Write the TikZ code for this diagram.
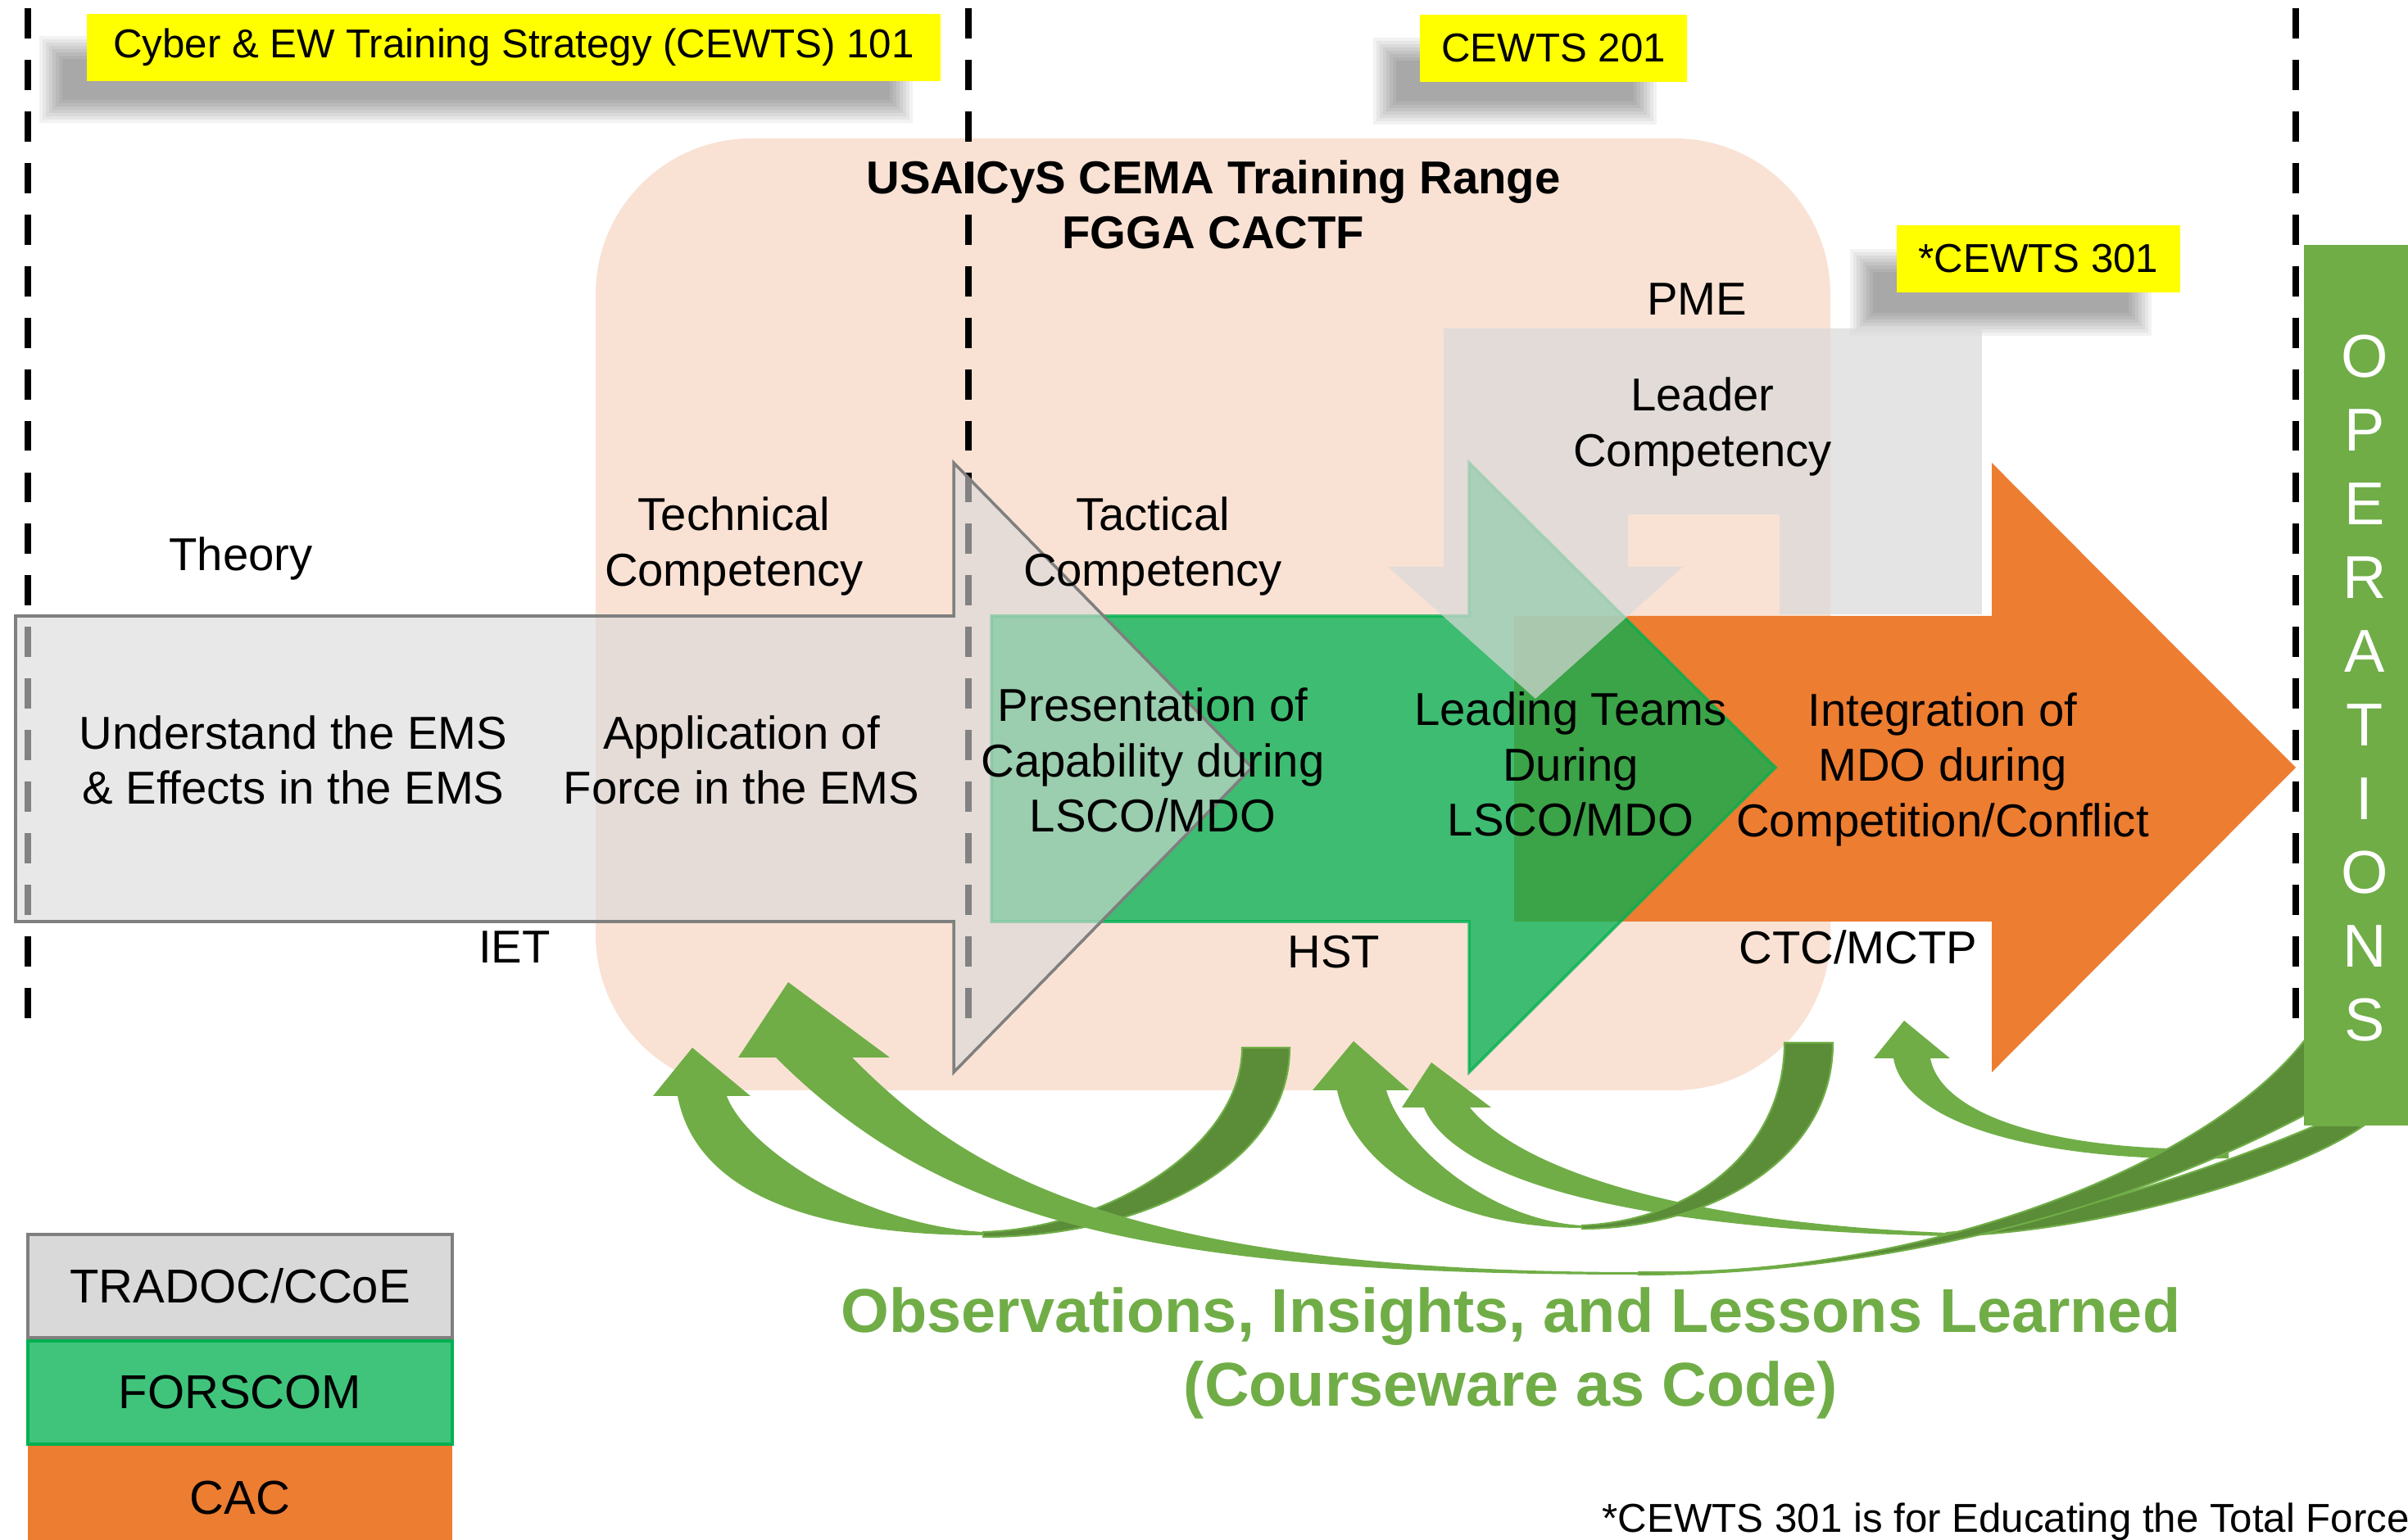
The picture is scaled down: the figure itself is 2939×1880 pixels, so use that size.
\documentclass[tikz,border=0pt]{standalone}
\usepackage{fontspec}
\setmainfont{Liberation Sans}
\usetikzlibrary{positioning}

\definecolor{peach}{RGB}{249,226,212}
\definecolor{tradocgray}{RGB}{217,217,217}
\definecolor{edgegray}{RGB}{127,127,127}
\definecolor{forscomgreen}{RGB}{0,176,80}
\definecolor{cacorange}{RGB}{237,125,49}
\definecolor{oilgreen}{RGB}{112,173,71}
\definecolor{oildark}{RGB}{91,140,56}
\definecolor{hiyellow}{RGB}{255,255,0}

\tikzset{
  lbl/.style={font=\fontsize{16}{19.2}\selectfont, align=center, inner sep=0pt},
  tagbox/.style={fill=hiyellow, font=\fontsize{14}{16.8}\selectfont, inner sep=0pt, minimum height=0.82cm},
  legbox/.style={minimum width=5.18cm, minimum height=1.26cm, inner sep=0pt, font=\fontsize{16.5}{19.8}\selectfont},
  opsletter/.style={text=white, font=\fontsize{21}{25}\selectfont, inner sep=0pt},
  divider/.style={line width=2.5pt, dash pattern=on 10.5pt off 7.4pt},
  ribbon/.style={fill=oilgreen},
  ribbonback/.style={fill=oildark, draw=oilgreen, line width=0.6pt},
}

\begin{document}
\begin{tikzpicture}[x=0.01cm, y=-0.01cm]
  \useasboundingbox (0,0) rectangle (2939,1880);

  % Shadows under the course tags
  \foreach \xa/\ya/\xb/\yb in {62/58/1100/136, 1690/60/2008/138, 2272/318/2612/396}
    \foreach \k in {0,4,...,28}
      \fill[black, opacity=0.05] (\xa-14+\k,\ya-14+\k) rectangle (\xb+14-\k,\yb+14-\k);

  % Training range backdrop
  \fill[peach, rounded corners=1.9cm] (727,169) rectangle (2234,1331);

  % Phase dividers
  \foreach \x in {34,1182,2802}
    \draw[divider] (\x,10) -- (\x,1250);

  % CAC, FORSCOM and TRADOC arrows
  \fill[cacorange] (1848,752) -- (2431,752) -- (2431,565) -- (2802,937)
    -- (2431,1309) -- (2431,1125) -- (1848,1125) -- cycle;
  \filldraw[fill=forscomgreen, draw=forscomgreen, opacity=0.75, line width=1pt]
    (1210,752) -- (1793,752) -- (1793,565) -- (2167,937)
    -- (1793,1309) -- (1793,1125) -- (1210,1125) -- cycle;
  \filldraw[fill=tradocgray, fill opacity=0.6, draw=edgegray, line width=1pt]
    (19,752) -- (1164,752) -- (1164,565) -- (1528,937)
    -- (1164,1309) -- (1164,1125) -- (19,1125) -- cycle;

  % PME block with its down arrow
  \fill[tradocgray, fill opacity=0.7] (1762,401) -- (2419,401) -- (2419,750) -- (2172,750)
    -- (2172,628) -- (1987,628) -- (1987,692) -- (2054,692) -- (1874,853)
    -- (1694,692) -- (1762,692) -- cycle;

  % Course tags
  \node[tagbox, minimum width=10.42cm] (cewts101) at (627,58) {Cyber \& EW Training Strategy (CEWTS) 101};
  \node[tagbox, minimum width=3.25cm] (cewts201) at (1896,59) {CEWTS 201};
  \node[tagbox, minimum width=3.45cm] (cewts301) at (2488,316) {*CEWTS 301};

  % Labels
  \node[lbl, font=\bfseries\fontsize{16}{19}\selectfont] (range) at (1481,250) {USAICyS CEMA Training Range\\FGGA CACTF};
  \node[lbl] (theory) at (294,682) {Theory};
  \node[lbl] (techcomp) at (896,667) {Technical\\Competency};
  \node[lbl] (taccomp) at (1407,667) {Tactical\\Competency};
  \node[lbl] (pme) at (2071,365) {PME};
  \node[lbl] (leadcomp) at (2078,521) {Leader\\Competency};
  \node[lbl] (understand) at (358,928) {Understand the EMS\\\& Effects in the EMS};
  \node[lbl] (application) at (905,928) {Application of\\Force in the EMS};
  \node[lbl] (presentation) at (1407,928) {Presentation of\\Capability during\\LSCO/MDO};
  \node[lbl] (leading) at (1917,933) {Leading Teams\\During\\LSCO/MDO};
  \node[lbl] (integration) at (2371,939) {Integration of\\MDO during\\Competition/Conflict};
  \node[lbl] (iet) at (628,1156) {IET};
  \node[lbl] (hst) at (1628,1162) {HST};
  \node[lbl] (ctc) at (2268,1156) {CTC/MCTP};

  % Feedback arrows (OIL)
  \fill[ribbon] (2287,1292) -- (2311,1292) .. controls (2325,1375) and (2500,1420) .. (2720,1414)
    -- (2720,1402) .. controls (2520,1408) and (2370,1365) .. (2356,1292)
    -- (2380,1292) -- (2324,1246) -- cycle;
  \fill[ribbon] (1711,1352) -- (1738,1352) .. controls (1770,1430) and (1950,1500) .. (2376,1509)
    -- (2376,1505) .. controls (2000,1490) and (1840,1410) .. (1794,1352)
    -- (1820,1352) -- (1747,1297) -- cycle;
  \filldraw[ribbonback] (2376,1505) .. controls (2500,1495) and (2720,1420) .. (2826,1374)
    -- (2885,1374) .. controls (2790,1440) and (2550,1505) .. (2376,1509) -- cycle;
  \fill[ribbon] (1602,1331) -- (1632,1331) .. controls (1650,1420) and (1760,1499) .. (1931,1499)
    -- (1931,1496) .. controls (1820,1490) and (1712,1400) .. (1692,1331)
    -- (1720,1331) -- (1652,1271) -- cycle;
  \filldraw[ribbonback] (1931,1496) .. controls (2070,1490) and (2178,1400) .. (2178,1273)
    -- (2237,1273) .. controls (2237,1420) and (2080,1500) .. (1931,1500) -- cycle;
  \fill[ribbon] (797,1338) -- (827,1338) .. controls (850,1460) and (1000,1508) .. (1200,1508)
    -- (1200,1504) .. controls (1050,1495) and (910,1400) .. (887,1338)
    -- (916,1338) -- (845,1279) -- cycle;
  \filldraw[ribbonback] (1200,1504) .. controls (1350,1500) and (1516,1400) .. (1516,1279)
    -- (1574,1279) .. controls (1574,1420) and (1400,1510) .. (1200,1510) -- cycle;
  \fill[ribbon] (901,1291) -- (947,1291) .. controls (1147,1491) and (1400,1556) .. (2000,1556)
    -- (2000,1553) .. controls (1350,1553) and (1170,1421) .. (1040,1291)
    -- (1086,1291) -- (962,1199) -- cycle;
  \filldraw[ribbonback] (2000,1556) .. controls (2250,1556) and (2550,1500) .. (2815,1360)
    -- (2815,1267) .. controls (2700,1420) and (2350,1560) .. (2000,1553) -- cycle;

  % Operations bar
  \fill[oilgreen] (2812,299) rectangle (2939,1374);
  \foreach \c [count=\i from 0] in {O,P,E,R,A,T,I,O,N,S}
    \node[opsletter] (ops\i) at (2886,435+90*\i) {\c};

  % Legend
  \node[legbox, fill=tradocgray, draw=edgegray, line width=1.2pt] (tradoc) at (293,1570) {TRADOC/CCoE};
  \node[legbox, fill=forscomgreen!75, draw=forscomgreen, line width=1pt, below=0pt of tradoc] (forscom) {FORSCOM};
  \node[legbox, fill=cacorange, below=0pt of forscom] (cac) {CAC};

  % Bottom texts
  \node[lbl, text=oilgreen, font=\bfseries\fontsize{21.5}{25.6}\selectfont] (oil) at (1844,1652)
    {Observations, Insights, and Lessons Learned\\(Courseware as Code)};
  \node[anchor=base west, inner sep=0pt, font=\fontsize{14}{16.8}\selectfont] (footnote) at (1955,1870)
    {*CEWTS 301 is for Educating the Total Force};
\end{tikzpicture}
\end{document}
